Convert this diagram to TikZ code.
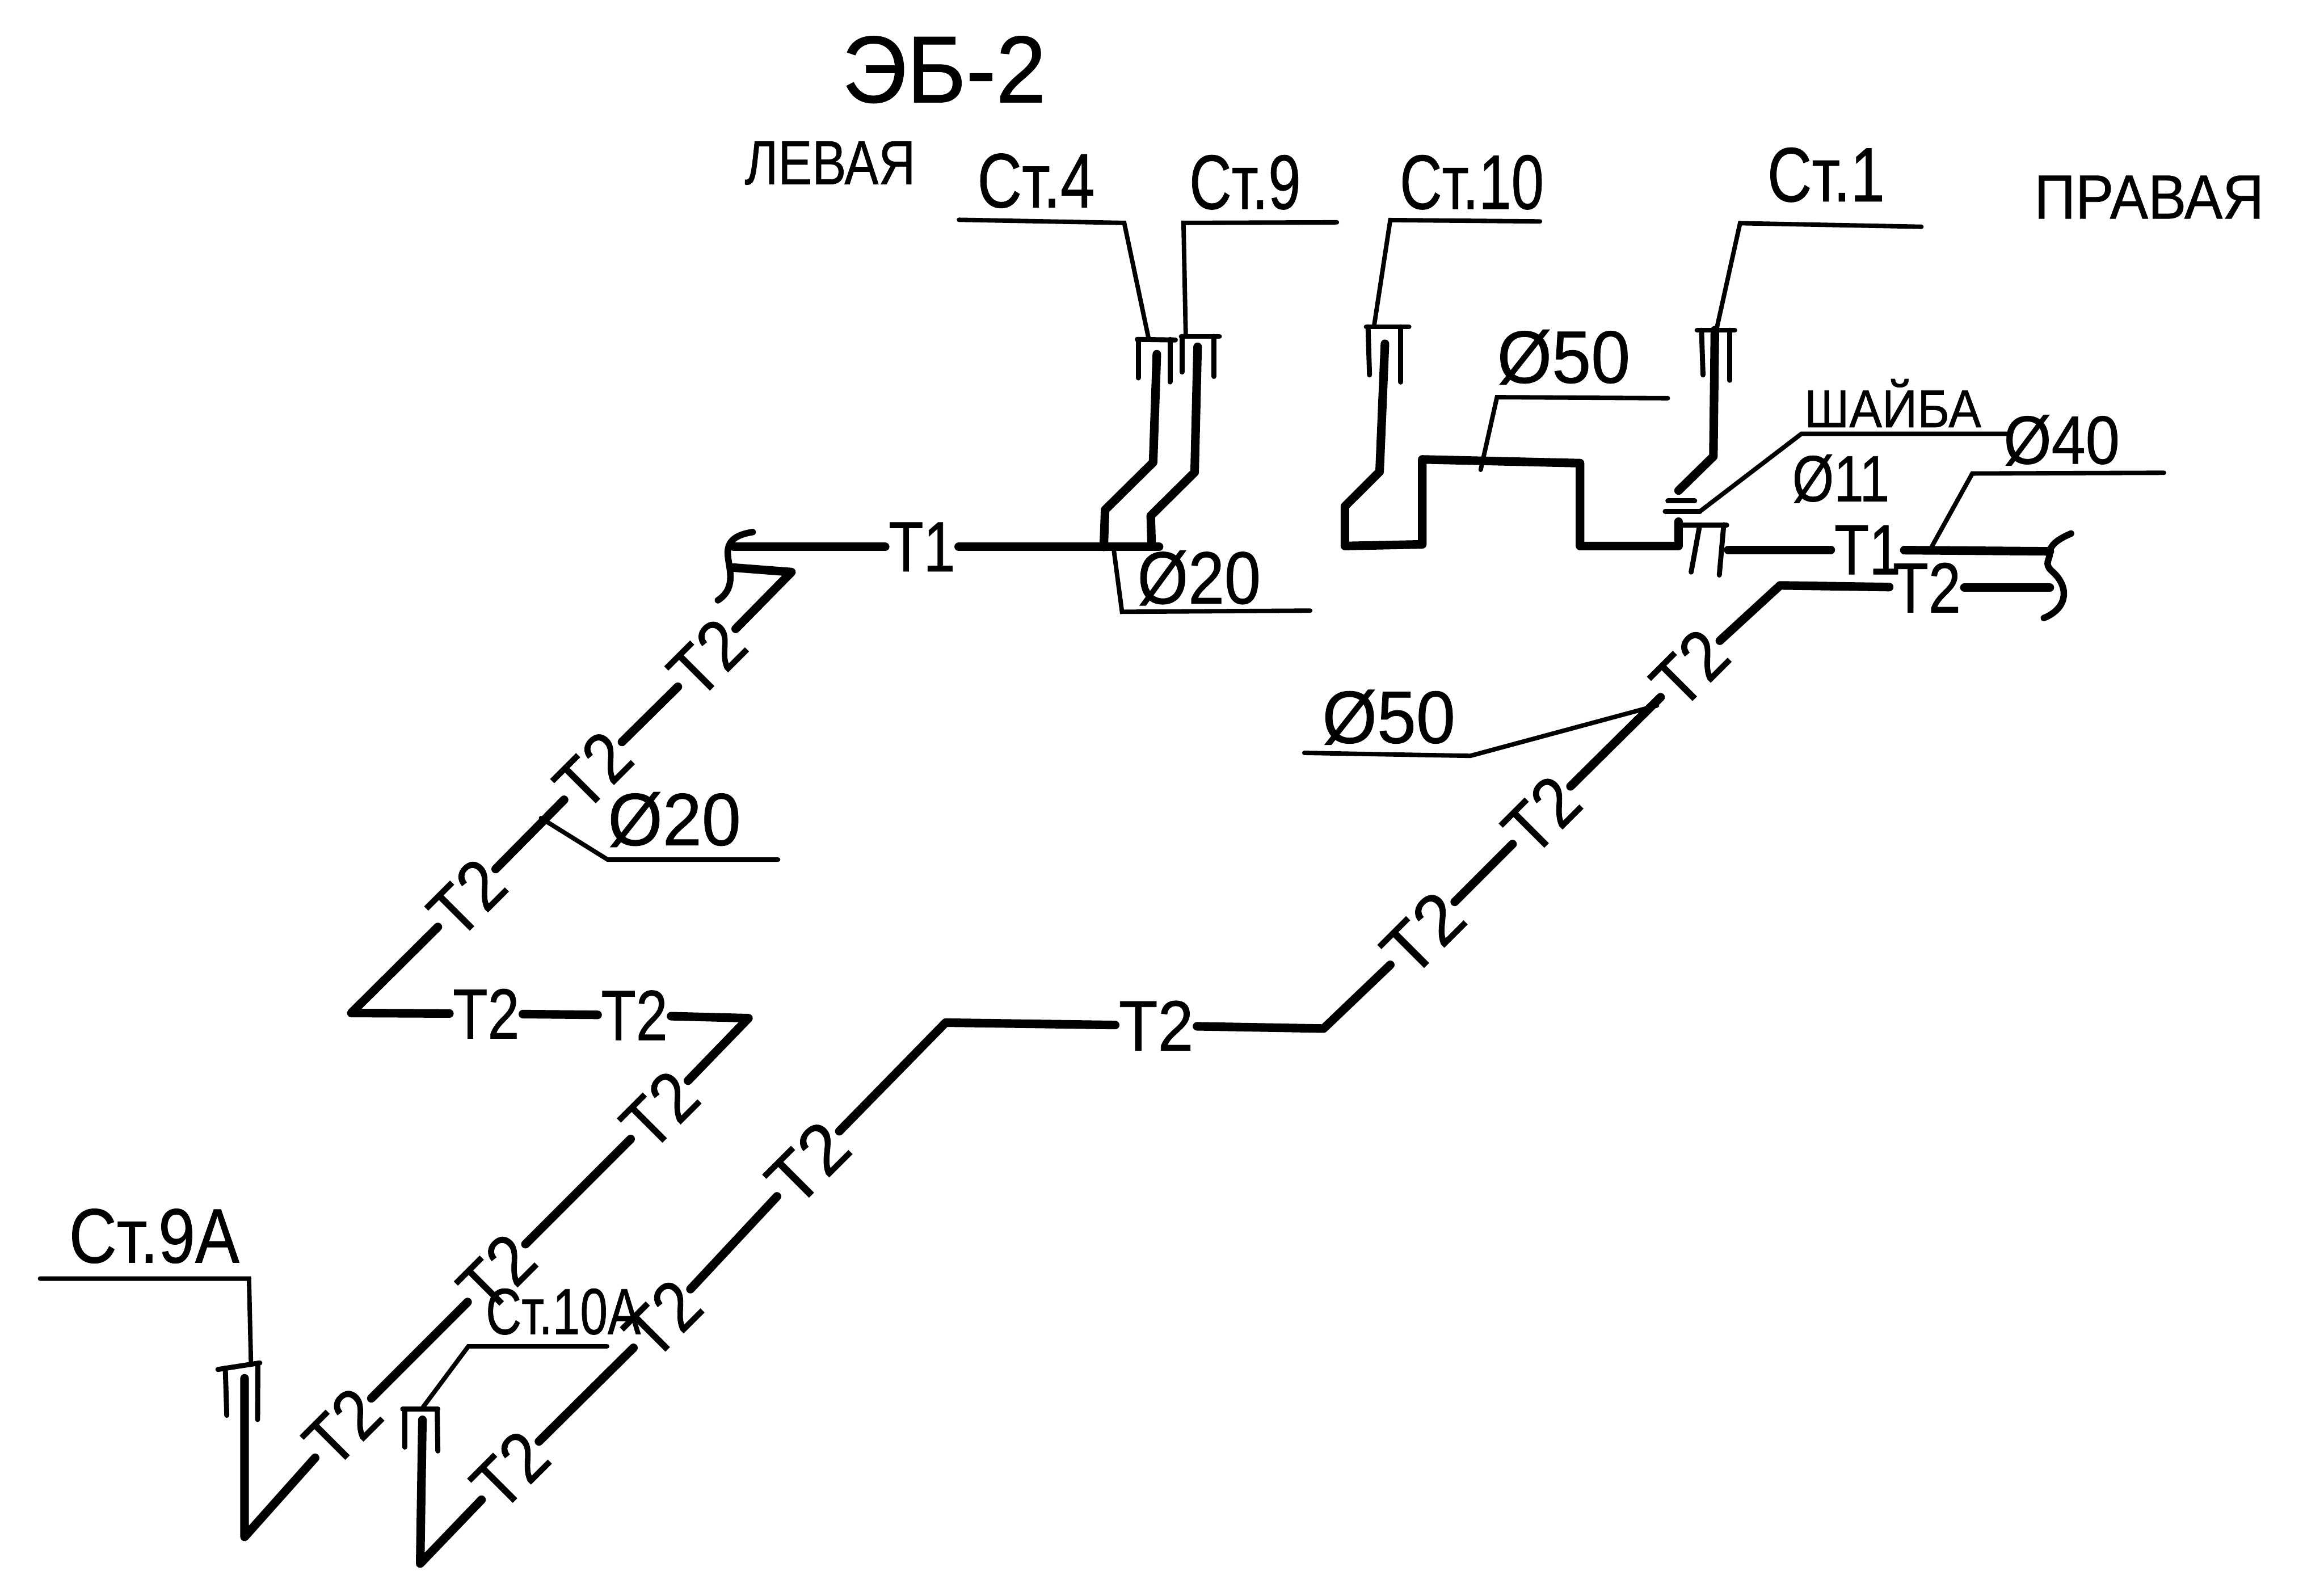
\documentclass[tikz,border=0pt]{standalone}
\usepackage{fontspec}
\usepackage{graphicx}
\setmainfont[FakeBold=0.7]{Liberation Sans}
\newcommand{\sx}[2]{\scalebox{#1}[1]{#2}}
\tikzset{
  pipe/.style={line width=2.9pt,line cap=round,line join=round},
  lead/.style={line width=1.5pt,line cap=round,line join=miter},
  brk/.style={line width=2.2pt,line cap=round,line join=round},
  valve/.style={line width=1.7pt,line cap=round,line join=miter},
  huge text/.style={inner sep=0pt,font=\fontsize{32}{32}\selectfont},
  st/.style={inner sep=0pt,font=\fontsize{26}{26}\selectfont},
  side/.style={inner sep=0pt,font=\fontsize{21}{21}\selectfont},
  dim/.style={inner sep=0pt,font=\fontsize{25}{25}\selectfont},
  tl/.style={inner sep=1pt,font=\fontsize{24}{24}\selectfont},
}
\begin{document}
\begin{tikzpicture}[x=0.5pt,y=-0.5pt]
\useasboundingbox (0,0) rectangle (1568,1074);
% titles
\node[huge text] (title) at (637,47) {\sx{.95}{ЭБ-2}};
\node[side] (lev) at (560,110) {\sx{.82}{ЛЕВАЯ}};
\node[side] (prav) at (1450,133) {\sx{.92}{ПРАВАЯ}};
\node[st] (s4) at (699,122) {\sx{.8}{Ст.4}};
\node[st] (s9) at (840,123) {\sx{.76}{Ст.9}};
\node[st] (s10) at (993,123) {\sx{.76}{Ст.10}};
\node[st] (s1) at (1232,118) {\sx{.8}{Ст.1}};
\node[st] (s9a) at (104,834) {\sx{.86}{Ст.9А}};
\node[st,font=\fontsize{22}{22}\selectfont] (s10a) at (380,885) {\sx{.76}{Ст.10А}};
\node[st,font=\fontsize{18}{18}\selectfont] (wash) at (1277,272) {\sx{.92}{ШАЙБА}};
\node[dim] (d20a) at (809,390) {\sx{.88}{Ø20}};
\node[dim] (d50a) at (1055,241) {\sx{.95}{Ø50}};
\node[dim,font=\fontsize{22}{22}\selectfont] (d11) at (1242,323) {\sx{.82}{Ø11}};
\node[dim,font=\fontsize{23}{23}\selectfont] (d40) at (1391,297) {\sx{.9}{Ø40}};
\node[dim] (d50b) at (937,484) {\sx{.95}{Ø50}};
\node[dim] (d20b) at (455,553) {\sx{.95}{Ø20}};
% T labels
\node[tl] (ta) at (622,369) {\sx{.8}{Т1}};
\node[tl] (tb) at (1260,371) {\sx{.8}{Т1}};
\node[tl] (tp) at (1300,396.5) {\sx{.82}{Т2}};
\node[tl] (t1) at (231,963) [rotate=45] {\sx{.9}{Т2}};
\node[tl] (t2) at (335,859) [rotate=45] {\sx{.9}{Т2}};
\node[tl] (t3) at (445,749) [rotate=45] {\sx{.9}{Т2}};
\node[tl] (t4) at (428,685) {\sx{.8}{Т2}};
\node[tl] (t5) at (328,684) {\sx{.8}{Т2}};
\node[tl] (t6) at (315,606) [rotate=45] {\sx{.9}{Т2}};
\node[tl] (t7) at (400,520) [rotate=45] {\sx{.9}{Т2}};
\node[tl] (t8) at (477,444) [rotate=45] {\sx{.9}{Т2}};
\node[tl] (r1) at (344,992) [rotate=45] {\sx{.9}{Т2}};
\node[tl] (r2) at (447,890) [rotate=45] {\sx{.9}{Т2}};
\node[tl] (r3) at (545,785) [rotate=45] {\sx{1}{Т2}};
\node[tl] (r4) at (780,692) {\sx{.9}{Т2}};
\node[tl] (r5) at (960,630) [rotate=45] {\sx{1}{Т2}};
\node[tl] (r6) at (1040,550) [rotate=45] {\sx{.9}{Т2}};
\node[tl] (r7) at (1140,451) [rotate=45] {\sx{.9}{Т2}};
% named corners
\coordinate (a1) at (165,930); \coordinate (a2) at (165,1037);
\coordinate (b1) at (505,687); \coordinate (b2) at (237,683.5);
\coordinate (b3) at (534,386); \coordinate (b4) at (495,383);
\coordinate (e1) at (285,958); \coordinate (e2) at (283.5,1055);
\coordinate (e3) at (638,690); \coordinate (e4) at (893,694);
\coordinate (e5) at (1201,395); \coordinate (e6) at (1383,396.5);
\coordinate (tl) at (495,369); \coordinate (tm) at (782,369);
\coordinate (tr) at (1383,372); \coordinate (v1) at (1166,371);
% T2 left route
\draw[pipe] (a1) -- (a2) -- (t1);
\draw[pipe] (t1) -- (t2);
\draw[pipe] (t2) -- (t3);
\draw[pipe] (t3) -- (b1) -- (t4);
\draw[pipe] (t4) -- (t5);
\draw[pipe] (t5) -- (b2) -- (t6);
\draw[pipe] (t6) -- (t7);
\draw[pipe] (t7) -- (t8);
\draw[pipe] (t8) -- (b3) -- (b4);
% T2 right route
\draw[pipe] (e1) -- (e2) -- (r1);
\draw[pipe] (r1) -- (r2);
\draw[pipe] (r2) -- (r3);
\draw[pipe] (r3) -- (e3) -- (r4);
\draw[pipe] (r4) -- (e4) -- (r5);
\draw[pipe] (r5) -- (r6);
\draw[pipe] (r6) -- (r7);
\draw[pipe] (r7) -- (e5) -- (tp);
\draw[pipe] (tp) -- (e6);
% T1 lines
\draw[pipe] (tl) -- (ta);
\draw[pipe] (ta) -- (tm);
\draw[pipe] (v1) -- (tb);
\draw[pipe] (tb) -- (tr);
% pipes up to valves
\draw[pipe] (780.5,239) -- (778,312) -- (745.6,344) -- (744.7,369);
\draw[pipe] (808,234) -- (806,318.7) -- (776.4,348) -- (777,368);
\draw[pipe] (934.4,232) -- (930.8,318.3) -- (907.4,341.6) -- (907.4,368.4) -- (959.6,367.3) -- (959.6,310) -- (1066,312.5) -- (1066,368.4) -- (1132.5,368.4) -- (1132.5,352);
\draw[pipe] (1157,222.8) -- (1156,308) -- (1132.5,331);
% valves
\draw[valve] (768,255) -- (768,229);
\draw[valve] (767.3,229) -- (793,229.4);
\draw[valve] (789.4,229) -- (789.4,257.7);
\draw[valve] (797.6,227) -- (797.6,251);
\draw[valve] (797,227) -- (822.7,227);
\draw[valve] (819,227) -- (819,254);
\draw[valve] (923,220.5) -- (924,253);
\draw[valve] (921.8,220.5) -- (950.6,220.5);
\draw[valve] (945,220.5) -- (945,257.8);
\draw[valve] (1148,222.8) -- (1149,253);
\draw[valve] (1145,222.8) -- (1170.4,222.8);
\draw[valve] (1167,222.8) -- (1167,256.6);
\draw[valve] (1132.5,354.4) -- (1165,354.4);
\draw[valve] (1146.5,356) -- (1141,386);
\draw[valve] (1163,354) -- (1160,388);
\draw[valve] (153,955) -- (152,923);
\draw[valve] (147,924) -- (175.3,919.6);
\draw[valve] (174,920) -- (173.8,957.8);
\draw[valve] (273,950.7) -- (273,976.4);
\draw[valve] (271.7,950.7) -- (295.4,950.7);
\draw[valve] (295,950.7) -- (295.4,979);
% washer
\draw[valve] (1125.3,338) -- (1143.4,338);
\draw[valve] (1123.5,345) -- (1147,345);
% break marks
\draw[brk] (507.8,359) .. controls (495,361) and (491,366) .. (491,373) .. controls (491,382) and (498,396) .. (484.4,405);
\draw[brk] (1397.3,360) .. controls (1388,364) and (1383,368) .. (1383,373) .. controls (1383,378) and (1379,380) .. (1384,385) .. controls (1396,395) and (1396,410) .. (1379,417);
% leaders
\draw[lead] (647,148.3) -- (758.5,150.4) -- (775,228.6);
\draw[lead] (902,150) -- (798.5,150.4) -- (800,226);
\draw[lead] (1039,149.4) -- (938,148.5) -- (927,220.5);
\draw[lead] (1296.4,153) -- (1174,150.6) -- (1158,222.8);
\draw[lead] (27,862.7) -- (168,862.7) -- (169.3,918.6);
\draw[lead] (409.6,908.4) -- (316,908.4) -- (285,950);
\draw[lead] (751.6,372) -- (757,412.8) -- (884,412);
\draw[lead] (999,317) -- (1010,268) -- (1125.3,268.7);
\draw[lead] (1147,345) -- (1215.4,292.7) -- (1355.8,292.7);
\draw[lead] (1303.6,368.4) -- (1330.7,319.5) -- (1460,319);
\draw[lead] (880,508) -- (992,510) -- (1118,476);
\draw[lead] (365,552) -- (410,580) -- (525,580);
\end{tikzpicture}
\end{document}
